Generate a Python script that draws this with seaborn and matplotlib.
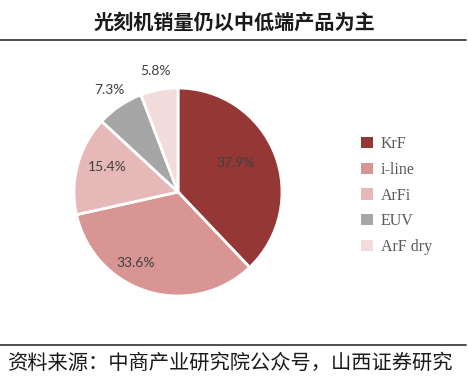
import numpy as np
import matplotlib
matplotlib.use("Agg")
import matplotlib.pyplot as plt
import seaborn as sns
from matplotlib.lines import Line2D
from matplotlib.patches import Patch

# data
categories = ["KrF", "i-line", "ArFi", "EUV", "ArF dry"]
shares = [37.9, 33.6, 15.4, 7.3, 5.8]
colors = ["#953735", "#D99594", "#E6B9B8", "#A6A6A6", "#F2DCDB"]
# label placement (radius, angular nudge in degrees)
label_radius = [0.62, 0.80, 0.72, 1.18, 1.18]
label_nudge = [5, -14, -4, 0, 0]

title = "光刻机销量仍以中低端产品为主"
source = "资料来源：中商产业研究院公众号，山西证券研究"

sns.set_theme(style="white")
plt.rcParams["font.family"] = ["Noto Sans CJK SC", "DejaVu Sans"]

fig = plt.figure(figsize=(4.68, 3.85), dpi=100)

# title and rules
fig.text(0.5, 1 - 22 / 385, title, ha="center", va="center",
         fontsize=14.5, fontweight="bold", color="#1a1a1a")
fig.add_artist(Line2D([0, 466 / 468], [1 - 40 / 385] * 2, color="#404040", lw=1.3))
fig.add_artist(Line2D([0, 466 / 468], [1 - 345 / 385] * 2, color="#404040", lw=1.3))
fig.text(8 / 468, 1 - 363 / 385, source, ha="left", va="center",
         fontsize=14.6, color="#1a1a1a")

# pie
cx, cy, r = 178, 192, 104
ax = fig.add_axes([(cx - r) / 468, 1 - (cy + r) / 385, 2 * r / 468, 2 * r / 385])
wedges, _ = ax.pie(shares, colors=colors, startangle=90, counterclock=False,
                   wedgeprops=dict(edgecolor="white", linewidth=2))
ax.set_aspect("auto")
ax.set_xlim(-1, 1)
ax.set_ylim(-1, 1)

for w, v, rad, nd in zip(wedges, shares, label_radius, label_nudge):
    ang = np.deg2rad((w.theta1 + w.theta2) / 2 + nd)
    ax.text(rad * np.cos(ang), rad * np.sin(ang), f"{v:.1f}%",
            ha="center", va="center", fontsize=10, color="#404040",
            family=["Lato", "DejaVu Sans"])

handles = [Patch(facecolor=c, edgecolor="none") for c in colors]
leg = fig.legend(handles, categories, loc="upper left",
                 bbox_to_anchor=(347 / 468, 1 - 122 / 385),
                 frameon=False, handlelength=0.7, handleheight=0.7,
                 handletextpad=0.5, labelspacing=0.6,
                 prop={"family": "Liberation Serif", "size": 11.5})
for t in leg.get_texts():
    t.set_color("#595959")

fig.savefig("out.png", dpi=100)
